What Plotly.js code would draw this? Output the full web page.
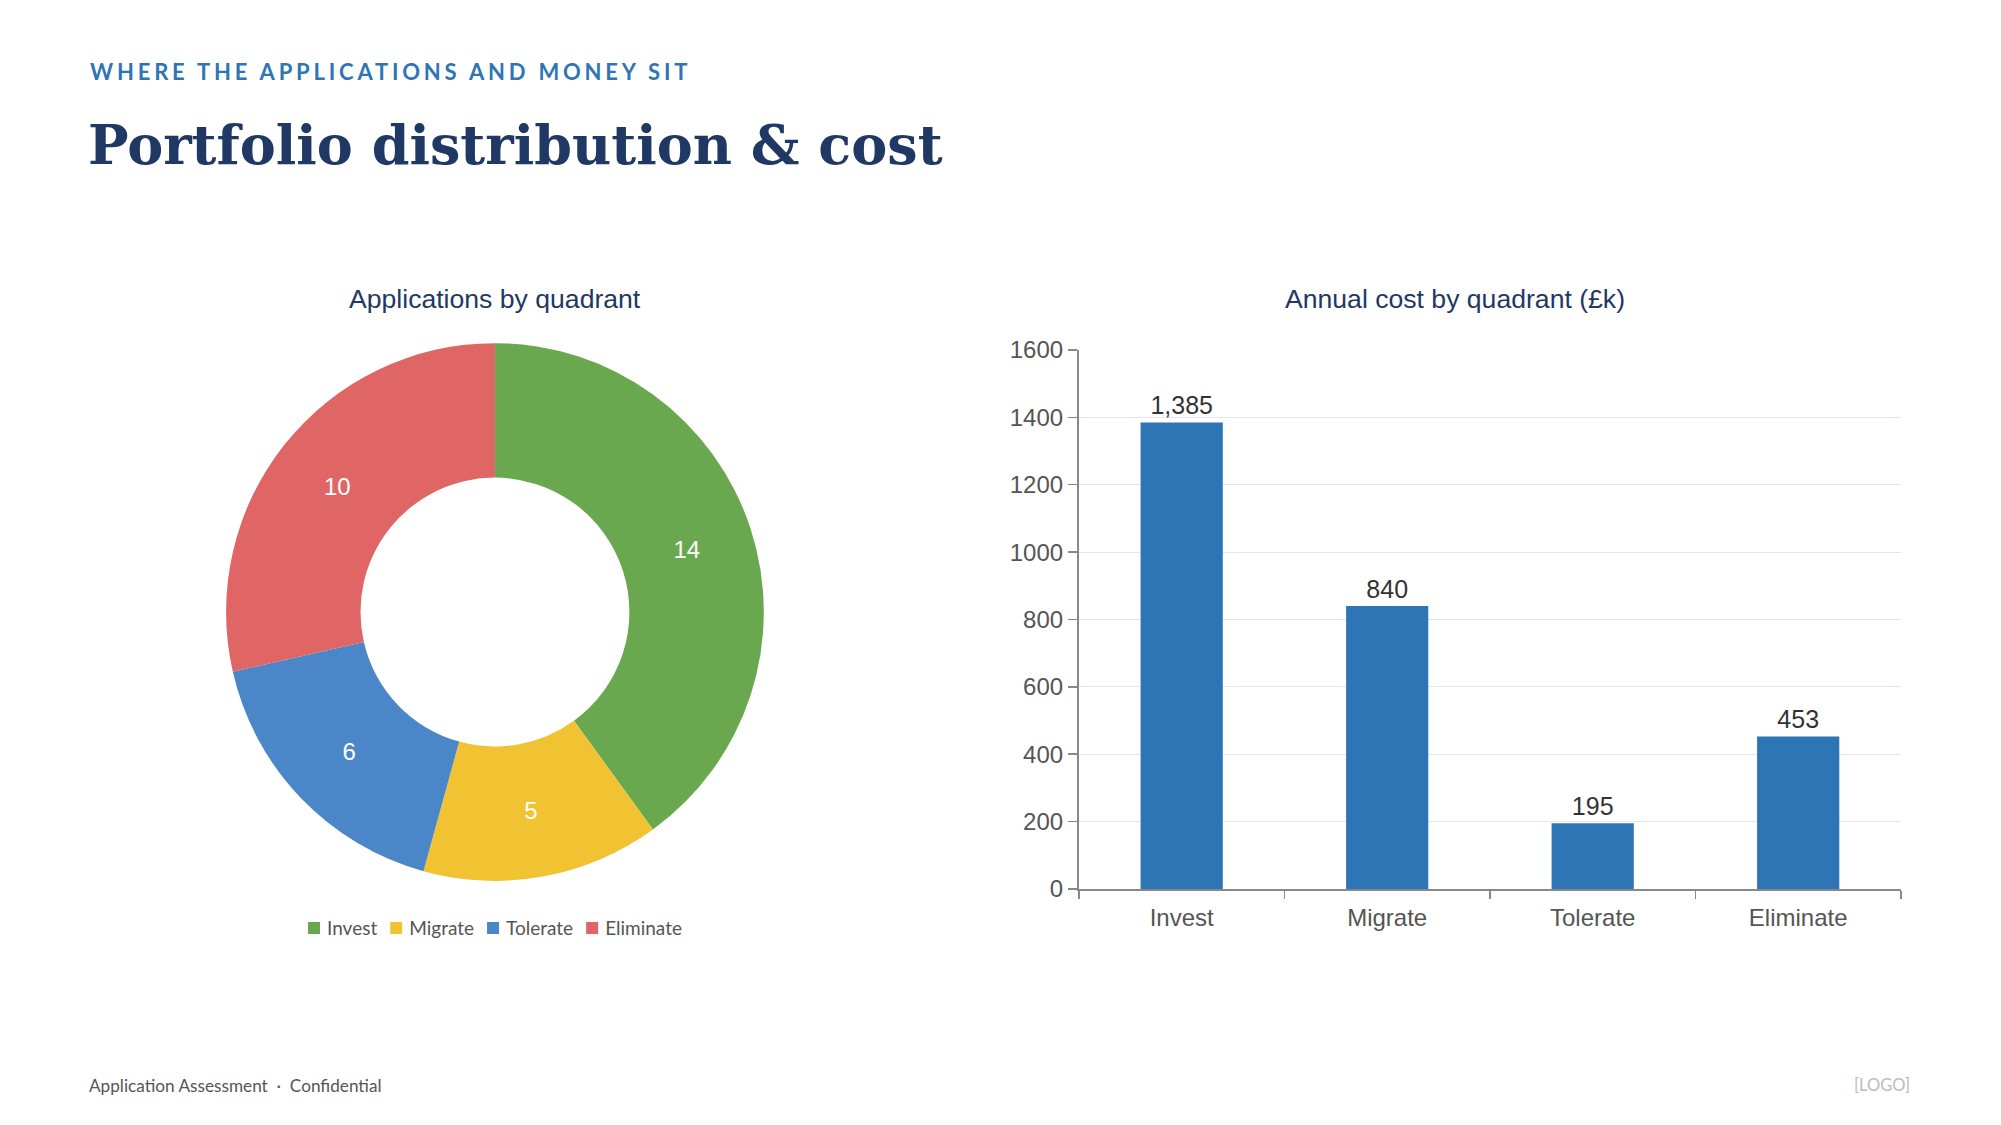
<!DOCTYPE html>
<html><head><meta charset="utf-8">
<script src="https://cdn.plot.ly/plotly-3.0.1.min.js"></script>
<style>html,body{margin:0;padding:0;background:#fff;}#chart{width:2001px;height:1125px;}</style>
</head><body><div id="chart"></div>
<script>
const quadrants = ["Invest", "Migrate", "Tolerate", "Eliminate"];
const appCounts = [14, 5, 6, 10];
const annualCost = [1385, 840, 195, 453];
const quadrantColors = ["#6aa84f", "#f1c232", "#4a86c8", "#e06666"];
const yTicks = [0, 200, 400, 600, 800, 1000, 1200, 1400, 1600];

const pie = {
  type: "pie", labels: quadrants, values: appCounts, hole: 0.5, sort: false,
  direction: "clockwise", rotation: 0,
  marker: {colors: quadrantColors, line: {width: 0}},
  textinfo: "value", textposition: "inside", insidetextorientation: "horizontal",
  textfont: {family: "Liberation Sans, Arial, sans-serif", size: 24, color: "#ffffff"},
  hoverinfo: "label+value",
  domain: {x: [0.1129, 0.3818], y: [0.217, 0.695]},
  showlegend: true
};
const bar = {
  type: "bar", x: quadrants, y: annualCost, xaxis: "x", yaxis: "y",
  marker: {color: "#2e75b6"}, width: 0.4,
  texttemplate: "%{y:,}", textposition: "outside", cliponaxis: false,
  textfont: {family: "Liberation Sans, Arial, sans-serif", size: 25, color: "#333333"},
  showlegend: false
};
const layout = {
  width: 2001, height: 1125, margin: {l: 0, r: 0, t: 0, b: 0},
  paper_bgcolor: "#ffffff", plot_bgcolor: "#ffffff",
  font: {family: "Liberation Sans, Arial, sans-serif", color: "#555555"},
  xaxis: {domain: [0.5392, 0.950], anchor: "y", showline: true, linecolor: "#888888", linewidth: 2,
    ticks: "outside", tickson: "boundaries", ticklen: 8, tickcolor: "#888888", tickwidth: 1.5,
    ticklabelstandoff: 6,
    tickfont: {size: 24, color: "#555555"}, showgrid: false},
  yaxis: {domain: [0.2098, 0.6889], anchor: "x", range: [0, 1600], tickvals: yTicks,
    showline: true, linecolor: "#888888", linewidth: 2, ticks: "outside", ticklen: 9,
    tickcolor: "#888888", tickwidth: 1.5, tickfont: {size: 24, color: "#555555"},
    gridcolor: "#e3e6ee", gridwidth: 1, zeroline: false},
  legend: {orientation: "h", x: 0.2474, xanchor: "center", y: 0.175, yanchor: "middle",
    font: {family: "Lato, sans-serif", size: 19, color: "#555555"}, itemwidth: 30, bgcolor: "rgba(0,0,0,0)"},
  annotations: [
    {text: "WHERE THE APPLICATIONS AND MONEY SIT", xref: "paper", yref: "paper", x: 88/2001, y: 1-71/1125,
     xanchor: "left", yanchor: "middle", showarrow: false,
     font: {family: "Lato, sans-serif", size: 22, color: "#2e75b6", weight: 700}},
    {text: "<b>Portfolio distribution &amp; cost</b>", xref: "paper", yref: "paper", x: 86/2001, y: 1-145/1125,
     xanchor: "left", yanchor: "middle", showarrow: false,
     font: {family: "DejaVu Serif, serif", size: 54, color: "#1f3864"}},
    {text: "Applications by quadrant", xref: "paper", yref: "paper", x: 495/2001, y: 1-299/1125,
     xanchor: "center", yanchor: "middle", showarrow: false,
     font: {family: "Liberation Sans, Arial, sans-serif", size: 26.6, color: "#1f3864"}},
    {text: "Annual cost by quadrant (£k)", xref: "paper", yref: "paper", x: 1455/2001, y: 1-299/1125,
     xanchor: "center", yanchor: "middle", showarrow: false,
     font: {family: "Liberation Sans, Arial, sans-serif", size: 26.6, color: "#1f3864"}},
    {text: "Application Assessment  ·  Confidential", xref: "paper", yref: "paper", x: 87/2001, y: 1-1085/1125,
     xanchor: "left", yanchor: "middle", showarrow: false,
     font: {family: "Lato, sans-serif", size: 17.2, color: "#555555"}},
    {text: "[LOGO]", xref: "paper", yref: "paper", x: 1912/2001, y: 1-1085/1125,
     xanchor: "right", yanchor: "middle", showarrow: false,
     font: {family: "Lato, sans-serif", size: 16.5, color: "#bbbbbb"}}
  ]
};
Plotly.newPlot("chart", [pie, bar], layout, {displayModeBar: false, staticPlot: true}).then(function (gd) {
  // letter-spaced kicker line, keeping its left edge in place
  gd.querySelectorAll(".annotation-text").forEach(function (t) {
    if (t.textContent.indexOf("WHERE THE") === 0) {
      var before = t.getBoundingClientRect().left;
      t.style.letterSpacing = "3.8px";
      var after = t.getBoundingClientRect().left;
      t.setAttribute("transform", "translate(" + (before - after) + ",0)");
    }
  });
  // tighten legend spacing (marker → text, item → item)
  var items = Array.prototype.slice.call(gd.querySelectorAll(".legend .traces"));
  if (!items.length) return;
  var parse = function (g) {
    var m = /translate\(\s*([-\d.]+)[ ,]+([-\d.]+)\s*\)/.exec(g.getAttribute("transform") || "");
    return m ? [parseFloat(m[1]), parseFloat(m[2])] : [0, 0];
  };
  var textX = 33;
  var pos = items.map(parse);
  var tx = pos[0][0];
  var newX = [];
  items.forEach(function (g) {
    var t = g.querySelector("text.legendtext");
    t.setAttribute("x", textX);
    t.querySelectorAll("tspan[x]").forEach(function (s) { s.setAttribute("x", textX); });
    newX.push(tx);
    tx += t.getComputedTextLength() + 32;
  });
  items.forEach(function (g, i) { g.setAttribute("transform", "translate(" + newX[i] + "," + pos[i][1] + ")"); });
  var first = items[0].querySelector(".legendpoints path").getBoundingClientRect();
  var last = items[items.length - 1].querySelector("text.legendtext").getBoundingClientRect();
  var delta = 495 - (first.left + last.right) / 2;
  items.forEach(function (g, i) { g.setAttribute("transform", "translate(" + (newX[i] + delta) + "," + pos[i][1] + ")"); });
});
</script></body></html>
